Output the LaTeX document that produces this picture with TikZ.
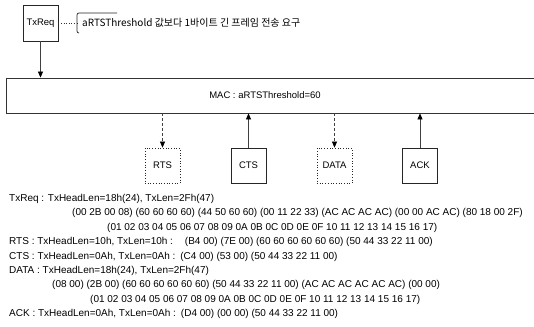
\documentclass[tikz,border=0pt]{standalone}
\usepackage{fontspec}
\setmainfont{Liberation Sans}
\newfontfamily\krfont{Noto Sans CJK KR}
\usetikzlibrary{arrows.meta}
\begin{document}
\begin{tikzpicture}[x=1pt,y=-1pt,
  box/.style={draw=black!85, line width=0.7pt, minimum width=35pt, minimum height=35pt, inner sep=0pt, font=\fontsize{9.5}{10}\selectfont},
  dbox/.style={box, dotted, line width=0.8pt},
  tipline/.style={draw=black!75, line width=0.7pt, -{Triangle[length=6pt,width=5pt,color=black]}},
  dtipline/.style={tipline, densely dashed},
  txt/.style={anchor=west, inner sep=0pt, font=\fontsize{10}{12}\selectfont}]
\useasboundingbox (0,0) rectangle (534,326);
% top request box and note
\node[box, minimum width=35pt, minimum height=36pt] (txreq) at (40.5,23) {TxReq};
\node[anchor=west, inner sep=0pt, font=\krfont\fontsize{10}{11}\selectfont] (note) at (82,23) {aRTSThreshold 값보다 1바이트 긴 프레임 전송 요구};
\coordinate (brk) at (77,23);
\draw[black!80, dotted, line width=0.6pt] (txreq.east) -- (brk);
\draw[black!85, line width=0.7pt] (117,13) -- (79,13) to[out=180,in=90] (77,15) -- (77,21) -- (brk) -- (77,25) -- (77,31) to[out=-90,in=180] (79,33);
% MAC block
\node[draw=black!80, line width=0.8pt, minimum width=540pt, minimum height=35pt, anchor=west, inner sep=0pt] (mac) at (6,95.5) {};
\node[inner sep=0pt, font=\fontsize{9.5}{10}\selectfont] (mactext) at (265,95.5) {MAC : aRTSThreshold=60};
\draw[tipline] (txreq.south) -- (txreq.south |- mac.north);
% frame boxes
\node[dbox] (rts) at (162.5,165.5) {RTS};
\node[box] (cts) at (248.5,165.5) {CTS};
\node[dbox] (data) at (334.5,165.5) {DATA};
\node[box] (ack) at (420,165.5) {ACK};
\draw[dtipline] (rts.north |- mac.south) -- (rts.north);
\draw[tipline] (cts.north) -- (cts.north |- mac.south);
\draw[dtipline] (data.north |- mac.south) -- (data.north);
\draw[tipline] (ack.north) -- (ack.north |- mac.south);
% text listing
\node[txt] (l1) at (9,199) {TxReq : TxHeadLen=18h(24), TxLen=2Fh(47)};
\node[txt] (l2) at (72,213.4) {(00 2B 00 08) (60 60 60 60) (44 50 60 60) (00 11 22 33) (AC AC AC AC) (00 00 AC AC) (80 18 00 2F)};
\node[txt] (l3) at (107,227.8) {(01 02 03 04 05 06 07 08 09 0A 0B 0C 0D 0E 0F 10 11 12 13 14 15 16 17)};
\node[txt] (l4) at (9,242.2) {RTS : TxHeadLen=10h, TxLen=10h :\hspace{1.2em}(B4 00) (7E 00) (60 60 60 60 60 60) (50 44 33 22 11 00)};
\node[txt] (l5) at (9,256.6) {CTS : TxHeadLen=0Ah, TxLen=0Ah :\hspace{0.5em}(C4 00) (53 00) (50 44 33 22 11 00)};
\node[txt] (l6) at (9,271) {DATA : TxHeadLen=18h(24), TxLen=2Fh(47)};
\node[txt] (l7) at (52,285.4) {(08 00) (2B 00) (60 60 60 60 60 60) (50 44 33 22 11 00) (AC AC AC AC AC AC) (00 00)};
\node[txt] (l8) at (90,299.8) {(01 02 03 04 05 06 07 08 09 0A 0B 0C 0D 0E 0F 10 11 12 13 14 15 16 17)};
\node[txt] (l9) at (9,314.2) {ACK : TxHeadLen=0Ah, TxLen=0Ah :\hspace{0.5em}(D4 00) (00 00) (50 44 33 22 11 00)};
\end{tikzpicture}
\end{document}
